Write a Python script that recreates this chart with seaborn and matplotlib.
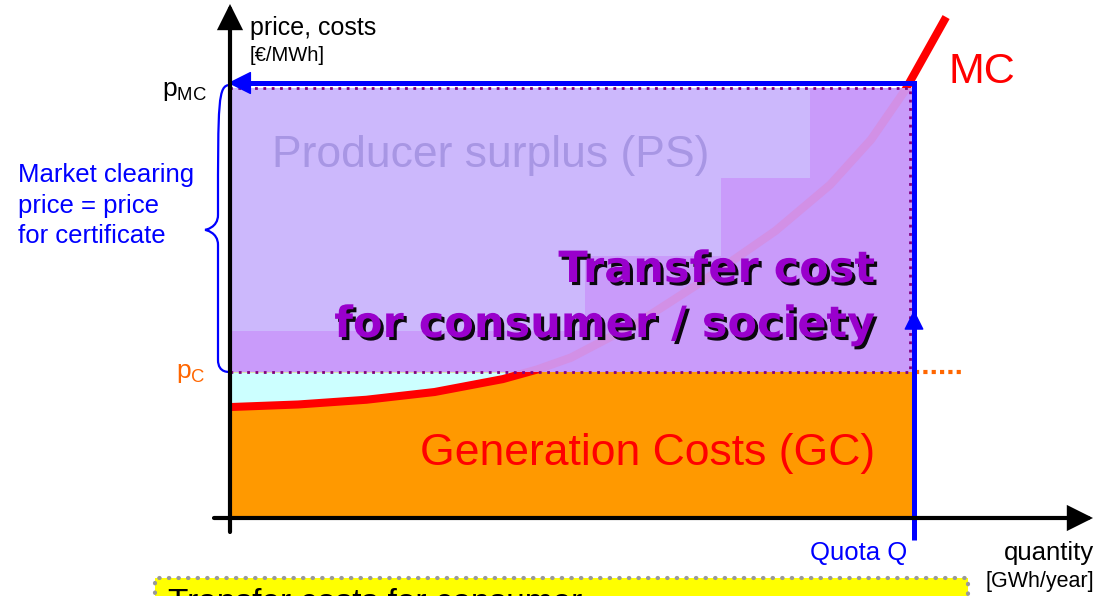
import numpy as np
import matplotlib
matplotlib.use('Agg')
import matplotlib.pyplot as plt
import matplotlib.patheffects as pe
from matplotlib.patches import Rectangle, FancyArrowPatch, PathPatch
from matplotlib.path import Path
import seaborn as sns
import pandas as pd

# ---------------- data (model units: quantity 0..Q, price) ----------------
quota_Q = 100.0
p_MC = 100.0
p_C = 34.0
mc_quantity = [0, 10, 20, 30, 40, 45, 50, 60, 70, 80, 88, 94, 99, 105]
mc_price = [25.8, 26.4, 27.5, 29.3, 32.3, 34.5, 37.3, 45.6, 55.8, 66.8, 77.5, 88.0, 99.5, 116.5]
step_quantity = [0, 52, 72, 85, 100]
step_price = [43.5, 61, 79, 100, 100]

# ---------------- layout ----------------
sns.set_theme(style='white')
plt.rcParams['font.family'] = ['Liberation Sans', 'DejaVu Sans']
plt.rcParams['mathtext.default'] = 'regular'

W, H = 1104, 596
sx, sy = 6.82, 4.3          # pixels per model unit
ox, oy = 230, 518           # origin in pixels
def X(px): return (px - ox) / sx
def Y(py): return (oy - py) / sy
def dq(px): return px / sx
def dp(px): return px / sy

fig = plt.figure(figsize=(W / 100, H / 100), dpi=100)
fig.patch.set_facecolor('white')
ax = fig.add_axes([0, 0, 1, 1])
ax.set_xlim(X(0), X(W))
ax.set_ylim(Y(H), Y(0))
ax.set_axis_off()

BLUE = '#0000FF'
ORANGE = '#FF9900'
RED = '#FF0000'

# generation costs (orange) and producer surplus below p_C (cyan)
ax.add_patch(Rectangle((0, 0), quota_Q, p_C, facecolor=ORANGE, edgecolor='none', zorder=1))
mq = np.array(mc_quantity, float)
mp = np.array(mc_price, float)
ax.fill_between(mq, mp, p_C, where=mp < p_C, interpolate=True, color='#CCFFFF', lw=0, zorder=2)

# MC curve
df = pd.DataFrame({'q': mc_quantity, 'p': mc_price})
sns.lineplot(data=df, x='q', y='p', sort=False, estimator=None, color=RED, lw=5.8,
             ax=ax, zorder=3, legend=False)
ax.lines[-1].set_solid_capstyle('butt')
ax.lines[-1].set_solid_joinstyle('round')

# transfer cost area
ps_rect = Rectangle((0, p_C), quota_Q, p_MC - p_C, facecolor='#CCB8FC', edgecolor='none', zorder=4)
ax.add_patch(ps_rect)
ax.fill_between(step_quantity, p_C, step_price, step='post', color='#C99BFA', lw=0, zorder=5)

# MC curve seen through the overlay
sns.lineplot(data=df, x='q', y='p', sort=False, estimator=None, color='#D290E6', lw=6,
             ax=ax, zorder=6, legend=False)
ax.lines[-1].set_clip_path(ps_rect)
ax.lines[-1].set_solid_joinstyle('round')

# dotted outline
ax.add_patch(Rectangle((0, p_C), quota_Q - dq(2), p_MC - p_C, fill=False, edgecolor='#800080',
                       lw=2, linestyle=(0, (1, 2)), zorder=8))

# orange dotted p_C line to the right
ax.plot([quota_Q + dq(3), quota_Q + dq(53)], [p_C, p_C], color='#FF6600', lw=3,
        linestyle=(0, (1, 1)), zorder=8)

# blue quota / price lines
by = p_MC + dp(5)
bx = quota_Q + dq(2)
ax.plot([dq(20), bx, bx], [by, by, Y(540)], color=BLUE, lw=3.6, solid_joinstyle='miter',
        solid_capstyle='butt', zorder=9)
ax.add_patch(FancyArrowPatch((dq(30), by), (dq(-2), by),
                             arrowstyle='-|>,head_length=1.0,head_width=0.5', mutation_scale=15,
                             color=BLUE, lw=1, shrinkA=0, shrinkB=0, zorder=9))
ax.add_patch(FancyArrowPatch((bx, Y(345)), (bx, Y(310)),
                             arrowstyle='-|>,head_length=0.9,head_width=0.45', mutation_scale=14,
                             color=BLUE, lw=1, shrinkA=0, shrinkB=0, zorder=9))

# brace
mid = (p_C + p_MC) / 2
verts = [(0, p_MC + dp(3)), (dq(-12), p_MC + dp(3)), (dq(-12), p_MC - dp(12)),
         (dq(-12), mid + dp(15)),
         (dq(-12), mid + dp(2)), (dq(-25), mid), (dq(-25), mid),
         (dq(-25), mid), (dq(-12), mid - dp(2)), (dq(-12), mid - dp(15)),
         (dq(-12), p_C + dp(12)),
         (dq(-12), p_C - dp(2)), (0, p_C), (0, p_C)]
codes = [Path.MOVETO, Path.CURVE4, Path.CURVE4, Path.LINETO,
         Path.CURVE4, Path.CURVE4, Path.CURVE4,
         Path.CURVE4, Path.CURVE4, Path.CURVE4,
         Path.LINETO,
         Path.CURVE4, Path.CURVE4, Path.CURVE4]
ax.add_patch(PathPatch(Path(verts, codes), fill=False, edgecolor=BLUE, lw=1.6, zorder=9))

# axes arrows
ax.add_patch(FancyArrowPatch((X(230), Y(532)), (X(230), Y(4)),
                             arrowstyle='-|>,head_length=1.0,head_width=0.5', mutation_scale=14,
                             color='black', lw=3, shrinkA=0, shrinkB=0, zorder=10,
                             joinstyle='miter'))
ax.add_patch(FancyArrowPatch((X(214), Y(518)), (X(1093), Y(518)),
                             arrowstyle='-|>,head_length=1.0,head_width=0.5', mutation_scale=14,
                             color='black', lw=3, shrinkA=0, shrinkB=0, zorder=10,
                             joinstyle='miter'))

# ---------------- texts ----------------
T = dict(va='baseline', zorder=11)
ax.text(X(250), Y(35), 'price, costs', fontsize=18, color='black', **T)
ax.text(X(250), Y(61), '[€/MWh]', fontsize=14.5, color='black', **T)
ax.text(X(162), Y(96), 'p$_{MC}$', fontsize=19, color='black', **T)
ax.text(X(176), Y(378), 'p$_{C}$', fontsize=19, color='#FF6600', **T)
for txt, yy in [('Market clearing', 182), ('price = price', 213), ('for certificate', 243)]:
    ax.text(X(18), Y(yy), txt, fontsize=18.5, color=BLUE, **T)
ax.text(X(272), Y(167), 'Producer surplus (PS)', fontsize=32, color='#A896E4', **T)
ax.text(X(948), Y(83), 'MC', fontsize=31, color=RED, **T)
ax.text(X(420), Y(465), 'Generation Costs (GC)', fontsize=32, color=RED, **T)
ax.text(X(907), Y(560), 'Quota Q', fontsize=18.5, color=BLUE, ha='right', **T)
ax.text(X(1094), Y(560), 'quantity', fontsize=18.5, color='black', ha='right', **T)
ax.text(X(1094), Y(587), '[GWh/year]', fontsize=15.5, color='black', ha='right', **T)

shadow = [pe.withSimplePatchShadow(offset=(2.2, -2.2), shadow_rgbFace='black', alpha=0.95)]
for txt, yy in [('Transfer cost', 282), ('for consumer / society', 337)]:
    ax.text(X(875), Y(yy), txt, fontsize=31, fontweight='bold', color='#9900CC', ha='right',
            family=['DejaVu Sans'], path_effects=shadow, **T)

# yellow note box at the bottom (cut off by the slide edge, as in the reference)
ax.add_patch(Rectangle((X(155), Y(605)), X(968) - X(155), Y(578) - Y(605), facecolor='#FFFF00',
                       edgecolor='#999999', lw=3, linestyle=(0, (0.1, 2.2)), capstyle='round',
                       zorder=10, clip_on=False))
ax.text(X(168), Y(612), 'Transfer costs for consumer', fontsize=24, color='black',
        clip_on=False, **T)

fig.savefig('out.png', dpi=100, facecolor='white')
